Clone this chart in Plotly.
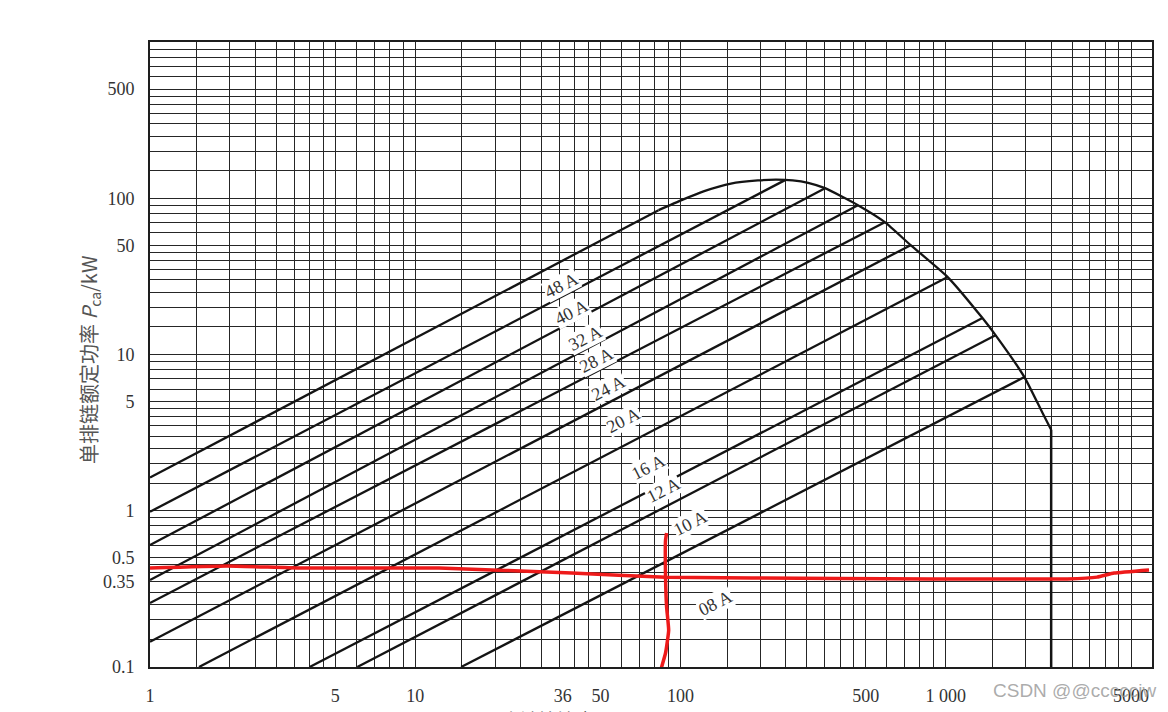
import numpy as np
import plotly.graph_objects as go

# ---------------- data ----------------
chain_names = ["48 A", "40 A", "32 A", "28 A", "24 A", "20 A", "16 A", "12 A", "10 A", "08 A"]
line_start_n = [1, 1, 1, 1, 1, 1, 1.53, 4.0, 6.05, 14.9]
line_start_p = [1.63, 0.985, 0.603, 0.36, 0.257, 0.145, 0.1, 0.1, 0.1, 0.1]
line_end_n = [82.7, 248, 351, 467, 590, 738, 1018, 1377, 1542, 1982]
line_end_p = [83.9, 130.6, 116, 90.3, 70.3, 50.1, 31.3, 17.1, 13.3, 7.17]

label_n = [35.7, 38.9, 43.9, 48.3, 53.6, 61.1, 75.8, 86.3, 109, 135.5]
label_p = [27.8, 18.7, 12.7, 9.2, 6.1, 3.8, 1.9, 1.36, 0.834, 0.256]

env_n = [82.7, 101, 123, 155, 196, 230, 265, 303, 351, 467, 590, 738, 1018, 1377, 1542, 1982, 2320, 2500]
env_p = [83.9, 97.2, 111, 124, 130, 131.5, 130, 125.5, 116, 90.3, 70.3, 50.1, 31.3, 17.1, 13.3, 7.17, 4.22, 3.3]
env_drop_n = [2500, 2500]
env_drop_p = [3.3, 0.1]

red_h_n = [1, 1.95, 3.66, 12.3, 38.9, 87.9, 393, 879, 2876, 3726, 4317, 5848]
red_h_p = [0.43, 0.443, 0.43, 0.43, 0.399, 0.376, 0.368, 0.366, 0.366, 0.376, 0.399, 0.418]
red_v_n = [88.7, 87.9, 87.9, 88.7, 90.3, 87.9, 84.8]
red_v_p = [0.72, 0.65, 0.376, 0.242, 0.172, 0.123, 0.099]

x_tick_vals = [1, 5, 10, 36, 50, 100, 500, 1000, 5000]
x_tick_text = ["1", "5", "10", "36", "50", "100", "500", "1 000", "5000"]
y_tick_vals = [0.1, 0.35, 0.5, 1, 5, 10, 50, 100, 500]
y_tick_text = ["0.1", "0.35", "0.5", "1", "5", "10", "50", "100", "500"]

grid_mantissas = [1, 1.5, 2, 2.5, 3, 3.5, 4, 4.5, 5, 6, 7, 8, 9]
x_range = [1, 6000]
y_range = [0.1, 1000]

# ---------------- figure ----------------
grid_x = [m * 10.0 ** e for e in range(0, 4) for m in grid_mantissas if m * 10.0 ** e <= x_range[1]]
grid_y = [m * 10.0 ** e for e in range(-1, 3) for m in grid_mantissas] + [1000.0]

y_text_full = []
for v in grid_y:
    t = ""
    for tv, tt in zip(y_tick_vals, y_tick_text):
        if np.isclose(v, tv):
            t = tt
    y_text_full.append(t)

SERIF = "Liberation Serif, Times New Roman, serif"
INK = "#141414"
fig = go.Figure()

for i, name in enumerate(chain_names):
    fig.add_trace(go.Scatter(
        x=[line_start_n[i], line_end_n[i]], y=[line_start_p[i], line_end_p[i]],
        mode="lines", line=dict(color=INK, width=2.3),
        hoverinfo="skip", showlegend=False))

fig.add_trace(go.Scatter(x=env_n, y=env_p, mode="lines",
                         line=dict(color=INK, width=2.3, shape="spline", smoothing=0.5),
                         hoverinfo="skip", showlegend=False))
fig.add_trace(go.Scatter(x=env_drop_n, y=env_drop_p, mode="lines",
                         line=dict(color=INK, width=2.5),
                         hoverinfo="skip", showlegend=False))

fig.add_trace(go.Scatter(x=red_h_n, y=red_h_p, mode="lines",
                         line=dict(color="#ee1a1a", width=3.5, shape="spline", smoothing=0.4),
                         hoverinfo="skip", showlegend=False))
fig.add_trace(go.Scatter(x=red_v_n, y=red_v_p, mode="lines",
                         line=dict(color="#ee1a1a", width=3.5, shape="spline", smoothing=0.4),
                         hoverinfo="skip", showlegend=False))

# invisible trace so the label axis (x2) is rendered
fig.add_trace(go.Scatter(x=[10], y=[1], xaxis="x2", yaxis="y", mode="markers",
                         marker=dict(opacity=0), hoverinfo="skip", showlegend=False))

for i, name in enumerate(chain_names):
    fig.add_annotation(x=np.log10(label_n[i]), y=np.log10(label_p[i]), xref="x", yref="y",
                       text=name, showarrow=False, textangle=-27,
                       font=dict(family=SERIF, size=18, color="#333333"),
                       bgcolor="white", borderpad=0)

# page body has an 8 px margin: the figure is sized/offset to compensate
L, T, PW, PH = 142, 34, 1002, 625

fig.add_annotation(x=(90 - 150) / PW, y=(667 - 360) / PH, xref="paper", yref="paper",
                   xanchor="center", yanchor="middle",
                   text="单排链额定功率 <i>P</i><sub>ca</sub>/kW", textangle=-90, showarrow=False,
                   font=dict(family="Noto Sans CJK SC", size=20, color="#555555"))
fig.add_annotation(x=(590 - 150) / PW, y=(667 - 704) / PH, xref="paper", yref="paper",
                   xanchor="center", yanchor="top",
                   text="小链轮转速 <i>n</i><sub>1</sub>/(r/min)", showarrow=False,
                   font=dict(family="Noto Sans CJK SC", size=18, color="#555555"))
fig.add_annotation(x=(1158 - 150) / PW, y=(667 - 690) / PH, xref="paper", yref="paper",
                   xanchor="right", yanchor="middle", text="CSDN @@cccccjw", showarrow=False,
                   font=dict(family="Liberation Sans, Arial, sans-serif", size=19,
                             color="rgba(150,150,150,0.8)"))

xr = [np.log10(x_range[0]), np.log10(x_range[1])]
yr = [np.log10(y_range[0]), np.log10(y_range[1])]

fig.update_layout(
    width=L + PW + 16, height=T + PH + 45,
    margin=dict(l=L, r=16, t=T, b=45, autoexpand=False),
    paper_bgcolor="white", plot_bgcolor="white",
    showlegend=False,
    xaxis=dict(type="log", range=xr, tickvals=grid_x, showticklabels=False, ticks="",
               showgrid=True, gridcolor="#262626", gridwidth=1.4,
               showline=True, mirror=True, linecolor="#1e1e1e", linewidth=1.6, zeroline=False),
    xaxis2=dict(type="log", range=xr, overlaying="x", anchor="y", side="bottom",
                tickvals=x_tick_vals, ticktext=x_tick_text, showgrid=False,
                ticks="outside", ticklen=12, tickcolor="rgba(0,0,0,0)",
                tickfont=dict(family=SERIF, size=18, color="#333333"), zeroline=False),
    yaxis=dict(type="log", range=yr, tickvals=grid_y, ticktext=y_text_full,
               showgrid=True, gridcolor="#262626", gridwidth=1.4,
               ticks="outside", ticklen=10, tickcolor="rgba(0,0,0,0)",
               tickfont=dict(family=SERIF, size=18, color="#333333"),
               showline=True, mirror=True, linecolor="#1e1e1e", linewidth=1.6, zeroline=False),
)

fig.write_html("out.html", config={"displayModeBar": False})
